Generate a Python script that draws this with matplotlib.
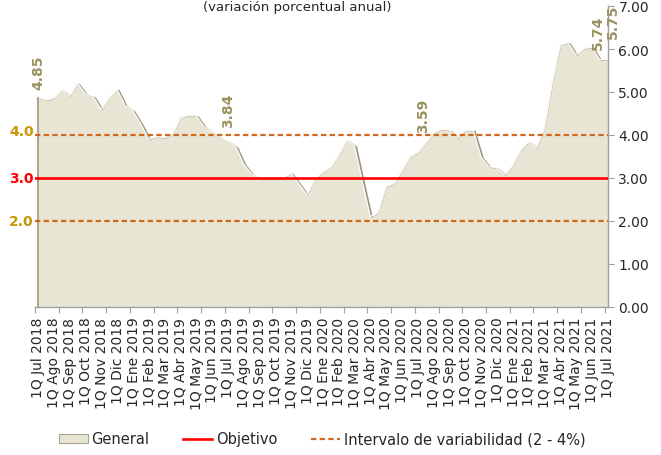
import numpy as np
import matplotlib
matplotlib.use("Agg")
import matplotlib.pyplot as plt
from matplotlib.patches import Patch
from matplotlib.lines import Line2D
from matplotlib.transforms import offset_copy

# Biweekly annual inflation (1Q Jul 2018 ... 1Q Jul 2021)
general = [4.85, 4.80, 4.85, 5.03, 4.90, 5.19, 4.95, 4.88, 4.58, 4.86,
           5.05, 4.68, 4.55, 4.25, 3.89, 3.95, 3.92, 4.02, 4.39, 4.45,
           4.44, 4.18, 4.05, 3.93, 3.84, 3.72, 3.32, 3.08, 2.98, 2.97,
           2.98, 3.00, 3.10, 2.85, 2.60, 2.98, 3.13, 3.25, 3.52, 3.87,
           3.74, 2.90, 2.08, 2.20, 2.80, 2.86, 3.17, 3.48, 3.59, 3.80,
           4.04, 4.12, 4.10, 3.92, 4.10, 4.10, 3.48, 3.25, 3.22, 3.07,
           3.29, 3.65, 3.83, 3.70, 4.15, 5.20, 6.08, 6.14, 5.85, 6.00,
           6.03, 5.74, 5.75]
objetivo = 3.0
intervalo = [2.0, 4.0]
months = ["Jul", "Ago", "Sep", "Oct", "Nov", "Dic", "Ene", "Feb", "Mar",
          "Abr", "May", "Jun"]
years = [2018] * 6 + [2019] * 12 + [2020] * 12 + [2021] * 7
labelled_points = [0, 24, 48, 71, 72]
title = "(variación porcentual anual)"

tick_labels = [f"1Q {months[k % 12]} {years[k]}" for k in range(len(years))]

x = np.arange(len(general))
y = np.array(general)

fig = plt.figure(figsize=(6.61, 4.56), dpi=100)
ax = fig.add_axes([35 / 661, 148 / 456, 573 / 661, 301 / 456])

# area with a soft shadow/bevel look
shadow_tr = offset_copy(ax.transData, fig=fig, x=1.3, y=-1.0, units="dots")
ax.plot(x, y, color="#9C9887", lw=1.6, transform=shadow_tr, zorder=1)
ax.fill_between(x, 0, y, color="#E9E5D4", lw=0, zorder=2)
hl_tr = offset_copy(ax.transData, fig=fig, x=-0.5, y=0.6, units="dots")
ax.plot(x, y, color="#FAF8F0", lw=0.9, transform=hl_tr, zorder=2.5)
ax.plot([0, 0], [0, y[0]], color="#A8A494", lw=1.4, zorder=2.6)

ax.axhline(objetivo, color="#FF0000", lw=1.9, zorder=4)
for lim in intervalo:
    ax.axhline(lim, color="#D2661C", lw=1.6, ls=(0, (2.4, 1.5)), zorder=4)

ax.set_xlim(-0.42, 72)
ax.set_ylim(0, 7)

# right y axis
ax.yaxis.tick_right()
ax.set_yticks(np.arange(0, 8, 1))
ax.set_yticklabels([f"{v:.2f}" for v in np.arange(0, 8, 1)])
ax.tick_params(axis="y", length=4.5, width=0.8, color="#A0A0A0", pad=3,
               labelsize=10, labelcolor="#262626")

# x axis: labels every 2 points, tick marks every 3 points
ax.set_xticks(x[::2])
ax.set_xticklabels(tick_labels, rotation=90, fontsize=10, color="#262626")
ax.tick_params(axis="x", which="major", length=0, pad=7)
ax.set_xticks(np.arange(-0.42, 72, 3), minor=True)
ax.tick_params(axis="x", which="minor", length=4, width=0.8, color="#A0A0A0")

for side in ["top", "left"]:
    ax.spines[side].set_visible(False)
ax.spines["right"].set_color("#A0A0A0")
ax.spines["bottom"].set_color("#A0A0A0")
ax.spines["right"].set_linewidth(1.0)
ax.spines["bottom"].set_linewidth(1.0)

# left side reference labels
ax.text(-0.55, 4.1, "4.0", color="#C8960A", fontsize=10, fontweight="bold",
        ha="right", va="center", clip_on=False)
ax.text(-0.55, 3.0, "3.0", color="#FF0000", fontsize=10, fontweight="bold",
        ha="right", va="center", clip_on=False)
ax.text(-0.55, 2.0, "2.0", color="#C8960A", fontsize=10, fontweight="bold",
        ha="right", va="center", clip_on=False)

# data labels
offsets = {0: (0, 6.5), 24: (0, 10.5), 48: (3.5, 14.5), 71: (-1.5, 8), 72: (3.5, 16)}
for i in labelled_points:
    dx, dy = offsets[i]
    ax.annotate(f"{general[i]:.2f}", (x[i], y[i]), xytext=(dx, dy),
                textcoords="offset points", rotation=90, ha="center", va="bottom",
                fontsize=10, fontweight="bold", color="#9A9360", zorder=6,
                annotation_clip=False)

fig.text(0.45, 0.997, title, ha="center", va="top", fontsize=9.5,
         color="#262626")

handles = [
    Patch(facecolor="#E9E5D4", edgecolor="#A8A494", lw=0.8),
    Line2D([0], [0], color="#FF0000", lw=1.9),
    Line2D([0], [0], color="#D2661C", lw=1.6, ls=(0, (2.4, 1.5))),
]
labels = ["General", "Objetivo", "Intervalo de variabilidad (2 - 4%)"]
fig.legend(handles, labels, loc="center", bbox_to_anchor=(322 / 661, 1 - 440 / 456),
           ncol=3, frameon=False, fontsize=10.5, handlelength=2.0,
           handleheight=0.6, handletextpad=0.25, columnspacing=2.3,
           labelcolor="#262626")

fig.savefig("out.png", dpi=100)
